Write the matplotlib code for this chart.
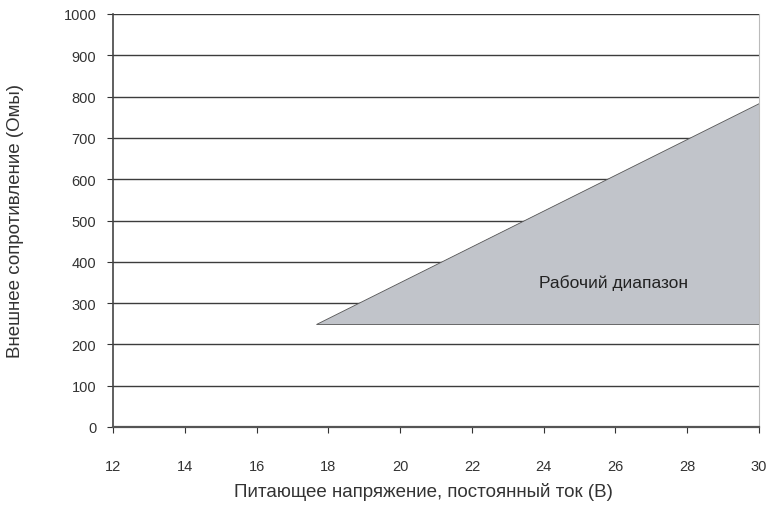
import matplotlib
matplotlib.use("Agg")
import matplotlib.pyplot as plt

plt.rcParams["font.family"] = ["Liberation Sans", "DejaVu Sans"]

# -----------------------------
# Data
# -----------------------------
x_ticks = [12, 14, 16, 18, 20, 22, 24, 26, 28, 30]
y_ticks = [0, 100, 200, 300, 400, 500, 600, 700, 800, 900, 1000]

# operating region corners (voltage, resistance)
region_v = [17.65, 30, 30]
region_r = [250, 250, 785]

label_text = "Рабочий диапазон"
label_pos = (25.95, 350)

# -----------------------------
# Plot
# -----------------------------
fig = plt.figure(figsize=(7.78, 5.06), dpi=100)
ax = fig.add_axes([113 / 778, 78 / 506, 646 / 778, 413 / 506])

for y in y_ticks[1:]:
    ax.axhline(y, color="#3c3c3c", lw=1.0, zorder=1)

ax.fill(region_v, region_r, facecolor="#c1c4ca", edgecolor="#555555",
        lw=0.6, zorder=2)
ax.text(label_pos[0], label_pos[1], label_text, ha="center", va="center",
        fontsize=12.5, color="#222222", zorder=3)

ax.set_xlim(12, 30)
ax.set_ylim(0, 1000)
ax.set_xticks(x_ticks)
ax.set_yticks(y_ticks)

ax.spines["top"].set_visible(False)
ax.spines["right"].set_color("#bbbbbb")
ax.spines["left"].set_color("#444444")
ax.spines["bottom"].set_color("#555555")
ax.spines["left"].set_linewidth(1.2)
ax.spines["bottom"].set_linewidth(1.6)

ax.tick_params(axis="both", labelsize=10.5, colors="#333333", length=4,
               direction="out")
ax.tick_params(axis="x", pad=19)
ax.tick_params(axis="y", pad=8)

ax.set_xlabel("Питающее напряжение, постоянный ток (В)", fontsize=13.5,
              color="#333333")
ax.set_ylabel("Внешнее сопротивление (Омы)", fontsize=13.5,
              color="#333333")
ax.xaxis.set_label_coords(0.48, -0.134)
ax.yaxis.set_label_coords(-0.137, 0.5)

fig.savefig("out.png", dpi=100)
